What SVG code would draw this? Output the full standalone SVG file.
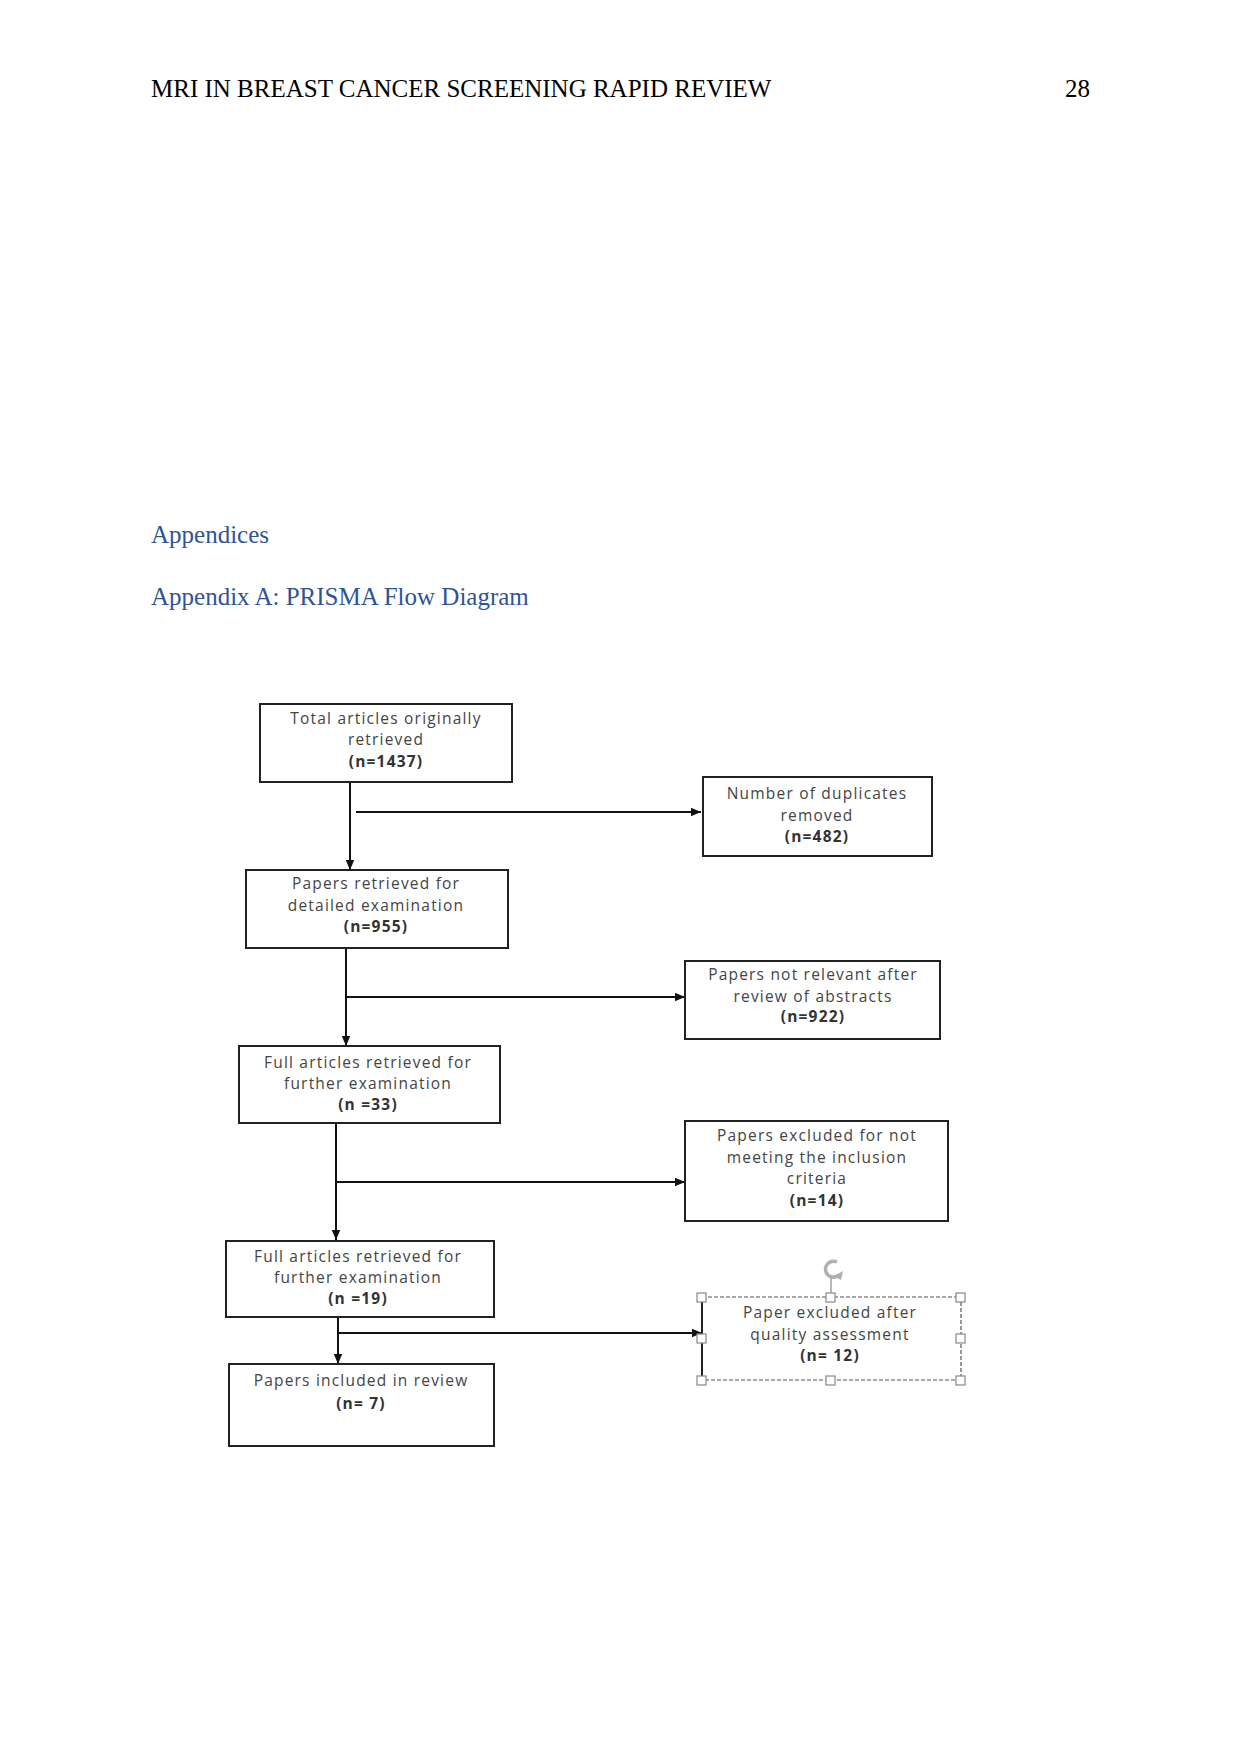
<svg xmlns="http://www.w3.org/2000/svg" width="1241" height="1754" viewBox="0 0 1241 1754">
<defs>
<style>
.hdr{font-family:"Liberation Serif","Times New Roman",serif;font-size:25px;fill:#000}
.h2{font-family:"Liberation Serif","Times New Roman",serif;font-size:25px;fill:#2f5496}
.box{fill:#fff;stroke:#222;stroke-width:2}
.t{font-family:"Open Sans","DejaVu Sans",sans-serif;font-size:15.5px;letter-spacing:1.2px;fill:#444;text-anchor:middle}
.b{font-weight:bold;fill:#333}
.con{stroke:#111;stroke-width:2;fill:none}
.h{fill:#fff;stroke:#888;stroke-width:1.2}
</style>
<marker id="arr" viewBox="0 0 10 10" refX="10" refY="5" markerWidth="10" markerHeight="10" markerUnits="userSpaceOnUse" orient="auto">
<path d="M0,0.8 L10,5 L0,9.2 Z" fill="#111"/>
</marker>
</defs>
<rect width="1241" height="1754" fill="#fff"/>
<text class="hdr" x="151" y="97">MRI IN BREAST CANCER SCREENING RAPID REVIEW</text>
<text class="hdr" x="1065" y="97">28</text>
<text class="h2" x="151" y="543">Appendices</text>
<text class="h2" x="151" y="605">Appendix A: PRISMA Flow Diagram</text>

<g id="connectors">
<path class="con" d="M350,782 V870" marker-end="url(#arr)"/>
<path class="con" d="M356,812 H701" marker-end="url(#arr)"/>
<path class="con" d="M346,948 V1046" marker-end="url(#arr)"/>
<path class="con" d="M346,997 H685" marker-end="url(#arr)"/>
<path class="con" d="M336,1123 V1240" marker-end="url(#arr)"/>
<path class="con" d="M336,1182 H685" marker-end="url(#arr)"/>
<path class="con" d="M338,1317 V1364" marker-end="url(#arr)"/>
<path class="con" d="M338,1333 H702" marker-end="url(#arr)"/>
</g>

<g id="n1">
<rect class="box" x="260" y="704" width="252" height="78"/>
<text class="t" x="386" y="724">Total articles originally</text>
<text class="t" x="386" y="745">retrieved</text>
<text class="t b" x="386" y="767">(n=1437)</text>
</g>
<g id="n2">
<rect class="box" x="703" y="777" width="229" height="79"/>
<text class="t" x="817" y="799">Number of duplicates</text>
<text class="t" x="817" y="821">removed</text>
<text class="t b" x="817" y="842">(n=482)</text>
</g>
<g id="n3">
<rect class="box" x="246" y="870" width="262" height="78"/>
<text class="t" x="376" y="889">Papers retrieved for</text>
<text class="t" x="376" y="911">detailed examination</text>
<text class="t b" x="376" y="932">(n=955)</text>
</g>
<g id="n4">
<rect class="box" x="685" y="961" width="255" height="78"/>
<text class="t" x="813" y="980">Papers not relevant after</text>
<text class="t" x="813" y="1002">review of abstracts</text>
<text class="t b" x="813" y="1022">(n=922)</text>
</g>
<g id="n5">
<rect class="box" x="239" y="1046" width="261" height="77"/>
<text class="t" x="368" y="1068">Full articles retrieved for</text>
<text class="t" x="368" y="1089">further examination</text>
<text class="t b" x="368" y="1110">(n =33)</text>
</g>
<g id="n6">
<rect class="box" x="685" y="1121" width="263" height="100"/>
<text class="t" x="817" y="1141">Papers excluded for not</text>
<text class="t" x="817" y="1163">meeting the inclusion</text>
<text class="t" x="817" y="1184">criteria</text>
<text class="t b" x="817" y="1206">(n=14)</text>
</g>
<g id="n7">
<rect class="box" x="226" y="1241" width="268" height="76"/>
<text class="t" x="358" y="1262">Full articles retrieved for</text>
<text class="t" x="358" y="1283">further examination</text>
<text class="t b" x="358" y="1304">(n =19)</text>
</g>
<g id="n8">
<rect x="702" y="1297" width="259" height="83" fill="#fff" stroke="#555" stroke-width="1.2" stroke-dasharray="4,2"/>
<line x1="702" y1="1297" x2="702" y2="1380" stroke="#222" stroke-width="2"/>
<text class="t" x="830" y="1318">Paper excluded after</text>
<text class="t" x="830" y="1340">quality assessment</text>
<text class="t b" x="830" y="1361">(n= 12)</text>
<line x1="831" y1="1278" x2="831" y2="1297" stroke="#888" stroke-width="1.2"/>
<path d="M837,1262 A8,8 0 1 0 839,1275" fill="none" stroke="#b0b0b0" stroke-width="3.5"/>
<path d="M834,1276 L843,1271 L841,1280 Z" fill="#b0b0b0"/>
<rect class="h" x="697" y="1293" width="9" height="9"/>
<rect class="h" x="826" y="1293" width="9" height="9"/>
<rect class="h" x="956" y="1293" width="9" height="9"/>
<rect class="h" x="697" y="1334" width="9" height="9"/>
<rect class="h" x="956" y="1334" width="9" height="9"/>
<rect class="h" x="697" y="1376" width="9" height="9"/>
<rect class="h" x="826" y="1376" width="9" height="9"/>
<rect class="h" x="956" y="1376" width="9" height="9"/>
</g>
<g id="n9">
<rect class="box" x="229" y="1364" width="265" height="82"/>
<text class="t" x="361" y="1386">Papers included in review</text>
<text class="t b" x="361" y="1409">(n= 7)</text>
</g>
</svg>
